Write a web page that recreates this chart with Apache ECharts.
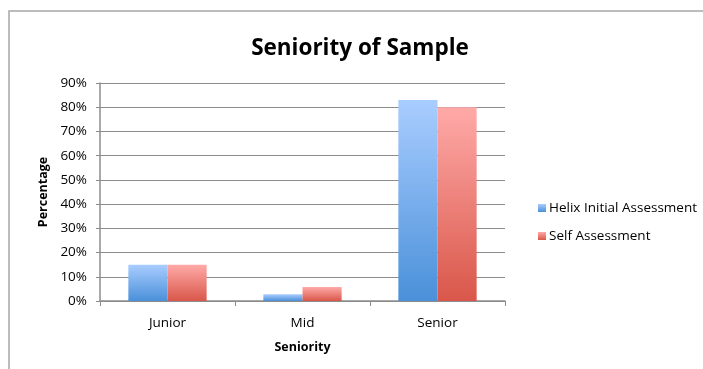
<!DOCTYPE html>
<html>
<head>
<meta charset="utf-8">
<script src="https://cdn.jsdelivr.net/npm/echarts@6/dist/echarts.min.js"></script>
<style>
  html, body { margin: 0; padding: 0; background: #fff; }
  #chart { width: 703px; height: 369px; }
</style>
</head>
<body>
<div id="chart"></div>
<script>
const categories = ["Junior", "Mid", "Senior"];
const helixValues = [15, 2.8, 83];
const selfValues = [15, 5.8, 80];
const seriesNames = ["Helix Initial Assessment", "Self Assessment"];

const chart = echarts.init(document.getElementById("chart"));
const font = "'Open Sans', 'Liberation Sans', sans-serif";

const grad = (top, bottom) =>
  new echarts.graphic.LinearGradient(0, 0, 0, 1, [
    { offset: 0, color: top },
    { offset: 1, color: bottom },
  ]);

chart.setOption({
  animation: false,
  textStyle: { fontFamily: font },
  graphic: [
    {
      type: "rect",
      shape: { x: 9, y: 11, width: 800, height: 500 },
      style: { fill: "none", stroke: "#a6a6a6", lineWidth: 1.5 },
      silent: true,
    },
  ],
  title: {
    text: "Seniority of Sample",
    left: 355,
    textAlign: "center",
    top: 32,
    textStyle: { fontSize: 22.5, fontWeight: "bold", color: "#000", fontFamily: font },
  },
  legend: {
    orient: "vertical",
    left: 533,
    top: 196,
    itemGap: 14,
    itemWidth: 8,
    itemHeight: 8,
    icon: "rect",
    textStyle: { fontSize: 13.5, color: "#000", padding: [0, 0, 0, -2] },
    data: seriesNames,
  },
  grid: { left: 100, right: 198, top: 83, bottom: 68 },
  xAxis: {
    type: "category",
    data: categories,
    name: "Seniority",
    nameLocation: "middle",
    nameGap: 40,
    nameTextStyle: { fontWeight: "bold", fontSize: 12.5, color: "#000" },
    axisLine: { lineStyle: { color: "#8c8c8c", width: 1.5 } },
    axisTick: { show: true, length: 5, lineStyle: { color: "#8c8c8c" } },
    axisLabel: { color: "#000", fontSize: 13.5, margin: 15 },
  },
  yAxis: {
    type: "value",
    min: 0,
    max: 90,
    interval: 10,
    name: "Percentage",
    nameLocation: "middle",
    nameGap: 50,
    nameTextStyle: { fontWeight: "bold", fontSize: 12.5, color: "#000" },
    axisLine: { show: true, lineStyle: { color: "#8c8c8c", width: 1.5 } },
    axisTick: { show: true, length: 4, lineStyle: { color: "#8c8c8c" } },
    axisLabel: { color: "#000", fontSize: 13.5, margin: 13, formatter: "{value}%" },
    splitLine: { lineStyle: { color: "#8c8c8c", width: 1 } },
  },
  series: [
    {
      name: seriesNames[0],
      type: "bar",
      data: helixValues,
      barGap: "0%",
      barCategoryGap: "42%",
      itemStyle: { color: grad("#a9cdff", "#4a90d9") },
    },
    {
      name: seriesNames[1],
      type: "bar",
      data: selfValues,
      itemStyle: { color: grad("#ffaaa8", "#d9574a") },
    },
  ],
});
</script>
</body>
</html>
